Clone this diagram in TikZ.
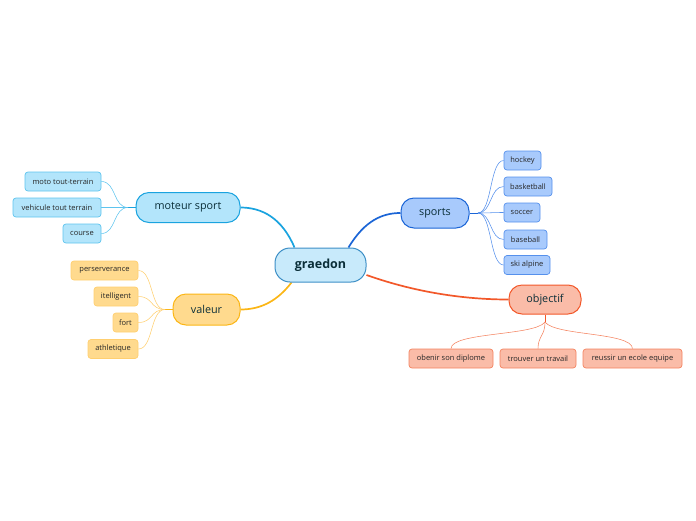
\documentclass[tikz,border=0pt]{standalone}
\usepackage{fontspec}
\setmainfont{Open Sans}
\usetikzlibrary{backgrounds}
\definecolor{txt}{HTML}{0A2E38}
\definecolor{gfill}{HTML}{C8EAFB}\definecolor{gline}{HTML}{3D8FC6}
\definecolor{cfill}{HTML}{B3E5FB}\definecolor{cline}{HTML}{1AA3DF}\definecolor{cthin}{HTML}{5EC4EE}
\definecolor{yfill}{HTML}{FFDA8E}\definecolor{yline}{HTML}{FBB616}\definecolor{ythin}{HTML}{FFCF70}
\definecolor{bfill}{HTML}{A8CAFC}\definecolor{bline}{HTML}{1B65D6}\definecolor{bthin}{HTML}{5590EC}
\definecolor{ofill}{HTML}{FABCA8}\definecolor{oline}{HTML}{F2582A}\definecolor{othin}{HTML}{F4835F}
\tikzset{
  rootbox/.style={draw=gline, fill=gfill, line width=1pt, rounded corners=15pt, minimum width=91pt, minimum height=34pt, inner sep=0pt, font=\fontsize{12.5}{14}\selectfont\bfseries, text=txt},
  mainbox/.style={line width=1pt, rounded corners=13pt, minimum height=30pt, inner sep=0pt, font=\fontsize{10.8}{12}\selectfont, text=txt},
  leafbox/.style={line width=0.7pt, rounded corners=3pt, minimum height=19pt, inner sep=0pt, font=\fontsize{7.5}{8.5}\selectfont, text=black!85},
  thick link/.style={line width=1.7pt},
  thin link/.style={line width=0.55pt},
}
\begin{document}
\begin{tikzpicture}[x=1pt,y=-1pt]
\useasboundingbox (0,0) rectangle (696,520);
% root
\node[rootbox] (g) at (320.5,265) {graedon};
% main branches
\node[mainbox, draw=cline, fill=cfill, minimum width=104pt] (ms) at (188,207.5) {moteur sport};
\node[mainbox, draw=yline, fill=yfill, minimum width=67pt, minimum height=31pt] (va) at (206.5,309.5) {valeur};
\node[mainbox, draw=bline, fill=bfill, minimum width=68pt] (sp) at (435,213) {sports};
\node[mainbox, draw=oline, fill=ofill, minimum width=72pt, minimum height=29pt] (ob) at (545,299.5) {objectif};
% moteur sport leaves
\node[leafbox, draw=cthin, fill=cfill, minimum width=76pt] (m1) at (63,181.5) {moto tout-terrain};
\node[leafbox, draw=cthin, fill=cfill, minimum width=88pt] (m2) at (57,207.5) {vehicule tout terrain};
\node[leafbox, draw=cthin, fill=cfill, minimum width=38pt] (m3) at (82,233.5) {course};
% valeur leaves
\node[leafbox, draw=ythin, fill=yfill, minimum width=67pt] (v1) at (104.5,270.5) {perserverance};
\node[leafbox, draw=ythin, fill=yfill, minimum width=44pt] (v2) at (116,296.5) {itelligent};
\node[leafbox, draw=ythin, fill=yfill, minimum width=25pt] (v3) at (125.5,322.5) {fort};
\node[leafbox, draw=ythin, fill=yfill, minimum width=50pt] (v4) at (113,349) {athletique};
% sports leaves
\node[leafbox, draw=bthin, fill=bfill, minimum width=37pt] (s1) at (522.5,160.5) {hockey};
\node[leafbox, draw=bthin, fill=bfill, minimum width=48pt] (s2) at (528,186.5) {basketball};
\node[leafbox, draw=bthin, fill=bfill, minimum width=36pt] (s3) at (522,212.5) {soccer};
\node[leafbox, draw=bthin, fill=bfill, minimum width=43pt] (s4) at (525.5,239.5) {baseball};
\node[leafbox, draw=bthin, fill=bfill, minimum width=46pt] (s5) at (527,265) {ski alpine};
% objectif leaves
\node[leafbox, draw=othin, fill=ofill, minimum width=84pt] (o1) at (451,358.5) {obenir son diplome};
\node[leafbox, draw=othin, fill=ofill, minimum width=76pt] (o2) at (538,358.5) {trouver un travail};
\node[leafbox, draw=othin, fill=ofill, minimum width=99pt] (o3) at (632.5,358.5) {reussir un ecole equipe};
% fan points
\coordinate (mf) at (128,207.5);
\coordinate (vf) at (165,309.5);
\coordinate (sf) at (478,213);
\coordinate (of) at (545,322);
\begin{scope}[on background layer]
% main links
\draw[thick link, cline] ([xshift=20pt]g.north west) .. controls (282,218) and (262,207.5) .. (ms.east);
\draw[thick link, yline] ([xshift=17pt]g.south west) .. controls (278,300) and (262,309.5) .. (va.east);
\draw[thick link, bline] ([xshift=-18pt]g.north east) .. controls (365,220) and (383,213) .. (sp.west);
\draw[thick link, oline] ([yshift=-10pt]g.east) .. controls (420,294) and (470,299.5) .. (ob.west);
% moteur sport fan
\draw[thin link, cline] (ms.west) -- (mf);
\foreach \c in {m1,m2,m3}
  \draw[thin link, cthin] (mf) .. controls (113,207.5) and ([xshift=15pt]\c.east) .. (\c.east);
% valeur fan
\draw[thin link, yline] (va.west) -- (vf);
\foreach \c in {v1,v2,v3,v4}
  \draw[thin link, ythin] (vf) .. controls (150,309.5) and ([xshift=15pt]\c.east) .. (\c.east);
% sports fan
\draw[thin link, bline] (sp.east) -- (sf);
\foreach \c in {s1,s2,s3,s4,s5}
  \draw[thin link, bthin] (sf) .. controls (492,213) and ([xshift=-14pt]\c.west) .. (\c.west);
% objectif fan
\draw[thin link, oline] (ob.south) -- (of);
\draw[thin link, othin] (of) .. controls (535,336) and (451,332) .. (o1.north);
\draw[thin link, othin] (of) .. controls (545,336) and (538,336) .. (o2.north);
\draw[thin link, othin] (of) .. controls (555,336) and (632,332) .. (o3.north);
\end{scope}
\end{tikzpicture}
\end{document}
